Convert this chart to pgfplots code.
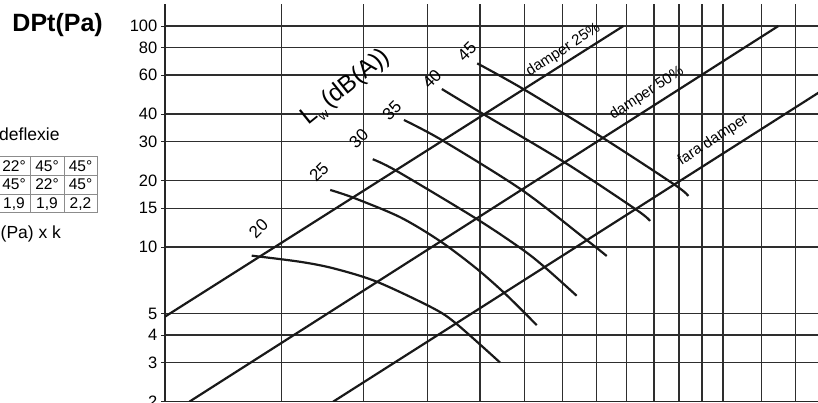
\documentclass[border=0pt]{standalone}
\usepackage{pgfplots}
\pgfplotsset{compat=1.18}
\usepackage{fontspec}
\setmainfont{Liberation Sans}
\begin{document}
\begin{tikzpicture}
\useasboundingbox (0pt,0pt) rectangle (818pt,-403pt);
\clip (0pt,0pt) rectangle (818pt,-403pt);
% left side texts
\node[anchor=base west, inner sep=0pt, font=\fontsize{25}{29}\selectfont\bfseries] at (12.3pt,-31.7pt) {DPt(Pa)};
\node[anchor=base west, inner sep=0pt, font=\fontsize{17.5}{20}\selectfont] at (-1pt,-141pt) {deflexie};
\node[anchor=base west, inner sep=0pt, font=\fontsize{17.5}{20}\selectfont] at (0.5pt,-238pt) {(Pa) x k};
\draw[black!45, line width=0.9pt] (-3pt,-156.7pt) rectangle (97pt,-212.7pt);
\draw[black!45, line width=0.9pt] (-3pt,-175.3pt) -- (97pt,-175.3pt);
\draw[black!45, line width=0.9pt] (-3pt,-194pt) -- (97pt,-194pt);
\draw[black!45, line width=0.9pt] (30pt,-156.7pt) -- (30pt,-212.7pt);
\draw[black!45, line width=0.9pt] (64pt,-156.7pt) -- (64pt,-212.7pt);
\begin{scope}[every node/.style={anchor=base, inner sep=0pt, font=\fontsize{15.5}{18}\selectfont}]
\node at (14pt,-171.3pt) {22°}; \node at (47pt,-171.3pt) {45°}; \node at (80.5pt,-171.3pt) {45°};
\node at (14pt,-190pt) {45°}; \node at (47pt,-190pt) {22°}; \node at (80.5pt,-190pt) {45°};
\node at (14pt,-208.6pt) {1,9}; \node at (47pt,-208.6pt) {1,9}; \node at (80.5pt,-208.6pt) {2,2};
\end{scope}
\begin{axis}[
  at={(165pt,-401.7pt)}, anchor=south west,
  scale only axis, width=654.6pt, height=397.7pt,
  xmode=log, ymode=log,
  xmin=2, xmax=19.6, ymin=2, ymax=125.8,
  axis x line=bottom, axis y line=left,
  axis line style={-, line width=1.3pt, black!85},
  xtick={2,3,4,5,6,7,8,9,10,11,12,13,14,16,18},
  xticklabels={},
  minor xtick={}, minor ytick={},
  ytick={2,3,4,5,10,15,20,30,40,60,80,100},
  yticklabels={2,3,4,5,10,15,20,30,40,60,80,100},
  grid=major,
  major grid style={line width=1.3pt, black!82},
  tick style={line width=1pt, black!85},
  tick align=outside,
  major tick length=4pt,
  x tick style={draw=none},
  tick label style={font=\fontsize{16.5}{19}\selectfont},
  yticklabel style={inner sep=3.5pt},
  /pgf/number format/assume math mode=true,
  every axis plot/.append style={line width=2.2pt, black!90},
]
% damper lines
\addplot[no marks] coordinates {(2,4.85) (9.886,100)};
\addplot[no marks] coordinates {(2.177,2) (16.97,100)};
\addplot[no marks] coordinates {(3.594,2) (19.6,50.3)};
% Lw curves
\addplot[no marks, smooth] coordinates {(2.706,9.15) (3.20,8.59) (3.598,8.02) (4.184,6.98) (5.096,5.29) (5.53,4.49) (6.43,3.01)};
\addplot[no marks, smooth] coordinates {(3.558,18.14) (3.856,16.74) (4.54,13.66) (5.22,10.64) (5.93,7.99) (6.58,6.07) (7.31,4.44)};
\addplot[no marks, smooth] coordinates {(4.126,24.98) (4.486,22.1) (5.93,13.41) (6.97,9.71) (7.57,7.97) (8.40,6.03)};
\addplot[no marks, smooth] coordinates {(4.60,37.6) (5.25,30.5) (6.94,18.14) (8.70,10.77) (9.33,9.12)};
\addplot[no marks, smooth] coordinates {(5.25,51.9) (6.10,39.6) (8.07,24.1) (10.36,14.72) (10.85,13.13)};
\addplot[no marks, smooth] coordinates {(5.94,67.8) (6.99,51.7) (9.22,31.1) (11.84,19.1) (12.40,17.03)};
% labels
\begin{scope}[every node/.style={font=\fontsize{17}{20}\selectfont, rotate=45, inner sep=0pt}]
\node at (axis cs:2.77,12.17) {20};
\node at (axis cs:3.42,21.9) {25};
\node at (axis cs:3.93,31.1) {30};
\node at (axis cs:4.41,41.4) {35};
\node at (axis cs:5.07,57.6) {40};
\node at (axis cs:5.73,76.6) {45};
\end{scope}
\node[rotate=39, inner sep=0pt, font=\fontsize{24.5}{28}\selectfont] at (axis cs:3.76,52.5) {L\raisebox{-0.45ex}{\fontsize{13}{13}\selectfont w}\,(dB(A))};
\begin{scope}[every node/.style={font=\fontsize{15}{18}\selectfont, rotate=33, inner sep=0pt}]
\node at (axis cs:8.02,77.9) {damper 25\%};
\node at (axis cs:10.73,49.6) {damper 50\%};
\node at (axis cs:13.53,30.5) {fara damper};
\end{scope}
\end{axis}
\end{tikzpicture}
\end{document}
